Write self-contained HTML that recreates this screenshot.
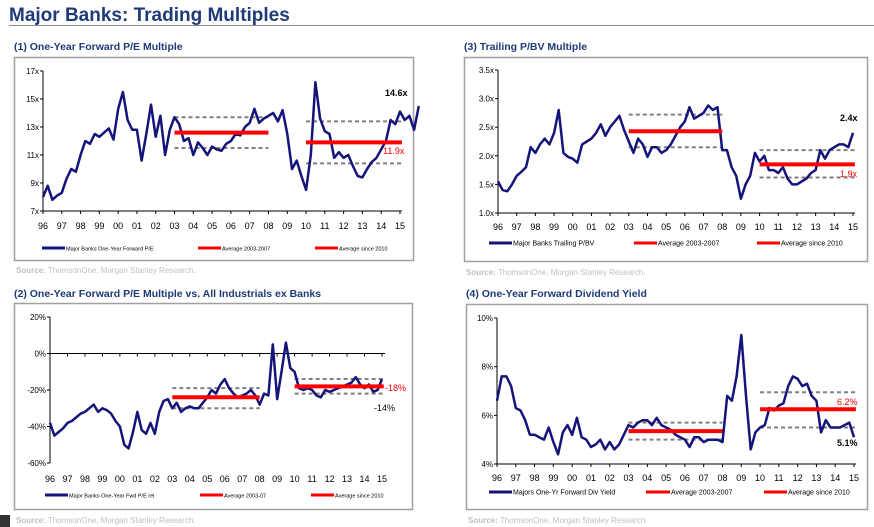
<!DOCTYPE html>
<html><head><meta charset="utf-8"><style>
body{margin:0;background:#fff;width:874px;height:527px;overflow:hidden;font-family:"Liberation Sans",Arial,sans-serif}
svg{display:block}
</style></head><body>
<svg id="s" width="874" height="527" xmlns="http://www.w3.org/2000/svg" font-family="Liberation Sans, Arial, sans-serif">
<text x="9" y="21" font-size="19" font-weight="bold" fill="#1f3a78">Major Banks: Trading Multiples</text>
<line x1="9" y1="25.5" x2="874" y2="25.5" stroke="#8a8a8a" stroke-width="1"/>
<rect x="0" y="515" width="10" height="12" fill="#333"/>
</svg>
<script>
const years=["96","97","98","99","00","01","02","03","04","05","06","07","08","09","10","11","12","13","14","15"];
// quarterly values, 1996Q1 .. 2015Q1
const peValues=[8.0,8.8,7.8,8.1, 8.3,9.3,10.0,9.8, 11.0,12.0,11.8,12.5, 12.3,12.6,12.9,12.1, 14.3,15.5,13.5,12.8, 12.8,10.6,12.5,14.6, 12.3,13.8,11.0,12.8, 13.7,13.2,12.0,12.2, 11.0,11.9,11.5,11.0, 11.6,11.4,11.3,11.8, 12.0,12.5,12.4,13.0, 13.3,14.3,13.3,13.6, 13.8,14.0,13.4,14.2, 12.5,10.0,10.6,9.5, 8.5,11.0,16.2,13.6, 12.7,12.5,10.8,11.2, 10.8,11.0,10.2,9.5, 9.4,10.0,10.5,10.8, 11.4,12.0,13.5,13.2, 14.1,13.5,13.8,12.8, 14.5];
const peTicks=[7,9,11,13,15,17];
const peAvg=[12.6,13.7,11.5];
const peAvg10=[11.9,13.4,10.4];

const pbvValues=[1.55,1.4,1.38,1.5, 1.65,1.72,1.8,2.15, 2.05,2.2,2.3,2.2, 2.4,2.8,2.05,1.98, 1.95,1.88,2.2,2.25, 2.3,2.4,2.55,2.35, 2.5,2.6,2.7,2.45, 2.25,2.05,2.3,2.2, 1.98,2.15,2.15,2.05, 2.1,2.2,2.35,2.5, 2.6,2.85,2.65,2.7, 2.75,2.88,2.8,2.85, 2.1,2.1,1.8,1.65, 1.25,1.5,1.65,2.05, 1.9,2.0,1.75,1.75, 1.7,1.8,1.6,1.5, 1.5,1.55,1.6,1.7, 1.75,2.1,1.95,2.1, 2.15,2.2,2.2,2.15, 2.4];
const pbvTicks=[1.0,1.5,2.0,2.5,3.0,3.5];
const pbvAvg=[2.43,2.72,2.15];
const pbvAvg10=[1.85,2.1,1.62];

const relValues=[-38,-45,-43,-41, -38,-37,-35,-33, -32,-30,-28,-32, -30,-31,-33,-37, -40,-50,-52,-43, -32,-42,-44,-38, -44,-32,-26,-25, -30,-27,-32,-30, -29,-30,-30,-27, -24,-20,-22,-17, -14,-19,-22,-24, -23,-22,-20,-23, -28,-22,-23,5, -25,-10,6,-8, -10,-19,-20,-19, -20,-23,-24,-20, -21,-20,-19,-18, -17,-16,-13,-17, -19,-17,-21,-20, -14];
const relTicks=[-60,-40,-20,0,20];
const relAvg=[-24,-19,-30];
const relAvg10=[-18,-14,-22];

const dyValues=[6.6,7.6,7.6,7.2, 6.3,6.2,5.8,5.2, 5.2,5.1,5.0,5.5, 4.9,4.4,5.3,5.6, 5.2,5.9,5.1,5.0, 4.7,4.8,5.0,4.6, 4.9,4.6,4.8,5.2, 5.6,5.5,5.7,5.8, 5.8,5.6,5.9,5.6, 5.5,5.4,5.2,5.1, 5.0,4.7,5.1,5.1, 4.9,5.0,5.0,5.0, 4.9,6.8,6.6,7.6, 9.3,6.8,4.6,5.3, 5.5,5.6,6.3,6.2, 6.4,6.5,7.2,7.6, 7.5,7.2,7.3,6.8, 6.6,5.3,5.8,5.5, 5.5,5.5,5.6,5.7, 5.1];
const dyTicks=[4,6,8,10];
const dyAvg=[5.35,5.7,5.0];
const dyAvg10=[6.25,6.95,5.5];

const NS="http://www.w3.org/2000/svg";
const svg=document.getElementById('s');
function el(tag,attrs,parent){const e=document.createElementNS(NS,tag);for(const k in attrs)e.setAttribute(k,attrs[k]);(parent||svg).appendChild(e);return e;}
function txt(x,y,s,size,attrs,parent){const t=el('text',Object.assign({x:x,y:y,'font-size':size},attrs||{}),parent);t.textContent=s;return t;}

function chart(c){
  const g=el('g',{});
  
  
  const t=txt(c.fx,c.titleY,c.title,10.5,{'font-weight':'bold',fill:'#1f3a78'});
  
  
  const fr=el('rect',{x:c.fx+0.5,y:c.fy+0.5,width:c.fw,height:c.fh,fill:'#fff',stroke:'#a0a0a0','stroke-width':1.5},g);
  
  
  const xs=yr=>c.x0+(yr-1996)*(c.x1-c.x0)/19;
  const ys=v=>c.yb+(v-c.vmin)*(c.yt-c.yb)/(c.vmax-c.vmin);
  const ya=el('line',{x1:c.x0,y1:c.yt,x2:c.x0,y2:c.yb,stroke:'#000','stroke-width':1},g);
  
  
  c.ticks.forEach(v=>{
    el('line',{x1:c.x0-3,y1:ys(v),x2:c.x0,y2:ys(v),stroke:'#000'},g);
    const tl=txt(c.x0-4,ys(v)+3,c.fmt(v),8,{'text-anchor':'end',fill:'#000'},g);
    
    
  });
  const axV=c.xaxisAt!==undefined?c.xaxisAt:c.vmin;
  const xEnd=c.xEnd||c.x1+2;
  const xa=el('line',{x1:c.x0,y1:ys(axV),x2:xEnd,y2:ys(axV),stroke:'#000','stroke-width':1},g);
  
  
  years.forEach((y,i)=>{
    const x=xs(1996+i);
    el('line',{x1:x,y1:ys(axV),x2:x,y2:ys(axV)+3,stroke:'#000'},g);
    const tl=txt(x,c.labY,y,9,{'text-anchor':'middle',fill:'#000'},g);
    
    
  });
  [[c.avg,2003,2008],[c.avg10,2010,2015.1]].forEach((a,k)=>{
    [a[0][1],a[0][2]].forEach(v=>{
      const d=el('line',{x1:xs(a[1]),y1:ys(v),x2:xs(a[2]),y2:ys(v),stroke:'#808080','stroke-width':2,'stroke-dasharray':'4,3'},g);
      
      
    });
  });
  const pts=c.data.map((v,i)=>xs(1996+i/4).toFixed(1)+','+ys(v).toFixed(1)).join(' ');
  const ln=el('polyline',{points:pts,fill:'none',stroke:'#14147a','stroke-width':2.5,'stroke-linejoin':'round'},g);
  
  
  [[c.avg,2003,2008],[c.avg10,2010,2015.1]].forEach((a,k)=>{
    const r=el('line',{x1:xs(a[1]),y1:ys(a[0][0]),x2:xs(a[2]),y2:ys(a[0][0]),stroke:'#ff0000','stroke-width':4},g);
    
    
  });
  c.ann.forEach(a=>{
    const at=txt(a[0],a[1],a[2],9,{fill:a[3],'font-weight':a[4]||'normal'},g);
    
    
  });
  c.legend.forEach(l=>{
    const lg=el('g',{},g);
    
    
    el('line',{x1:l[0],y1:c.legY,x2:l[1],y2:c.legY,stroke:l[2],'stroke-width':3},lg);
    txt(l[1]+1,c.legY+2.5,l[3],c.legSize,{fill:'#000'},lg);
  });
  const so=txt(c.fx+2,c.srcY,'',8,{fill:'#c0c0c0'});
  
  
  const b=el('tspan',{'font-weight':'bold'},so);b.textContent='Source:';
  const r=el('tspan',{},so);r.textContent=' ThomsonOne, Morgan Stanley Research.';
}

chart({name:'pe-chart',title:'(1) One-Year Forward P/E Multiple',titleY:50,fx:14,fy:57,fw:399,fh:203,
  x0:43,x1:400,yt:71,yb:211,vmin:7,vmax:17,ticks:peTicks,fmt:v=>v+'x',labY:229,data:peValues,avg:peAvg,avg10:peAvg10,
  ann:[[385,96,'14.6x','#000','bold'],[383,154,'11.9x','#ff0000']],
  legY:248,legSize:5.5,legend:[[42,65,'#14147a','Major Banks One-Year Forward P/E'],[198,221,'#ff0000','Average 2003-2007'],[315,338,'#ff0000','Average since 2010']],srcY:273});

chart({name:'pbv-chart',title:'(3) Trailing P/BV Multiple',titleY:50,fx:464,fy:57,fw:403,fh:204,
  x0:498,x1:853,yt:70,yb:213,vmin:1.0,vmax:3.5,ticks:pbvTicks,fmt:v=>v.toFixed(1)+'x',labY:230,data:pbvValues,avg:pbvAvg,avg10:pbvAvg10,
  ann:[[840,121,'2.4x','#000','bold'],[840,177,'1.9x','#ff0000']],
  legY:243,legSize:7,legend:[[489,512,'#14147a','Major Banks Trailing P/BV'],[634,657,'#ff0000','Average 2003-2007'],[757,780,'#ff0000','Average since 2010']],srcY:275});

chart({name:'rel-pe-chart',title:'(2) One-Year Forward P/E Multiple vs. All Industrials ex Banks',titleY:297,fx:14,fy:303,fw:398,fh:206,
  x0:50,x1:382,yt:317,yb:463,vmin:-60,vmax:20,ticks:relTicks,fmt:v=>v+'%',labY:482,data:relValues,avg:relAvg,avg10:relAvg10,xaxisAt:0,xEnd:385,
  ann:[[385,391,'-18%','#ff0000'],[374,411,'-14%','#000']],
  legY:495,legSize:5.5,legend:[[45,68,'#14147a','Major Banks One-Year Fwd P/E rel'],[200,223,'#ff0000','Average 2003-07'],[311,334,'#ff0000','Average since 2010']],srcY:523});

chart({name:'div-yield-chart',title:'(4) One-Year Forward Dividend Yield',titleY:297,fx:466,fy:304,fw:401,fh:205,
  x0:497,x1:854,yt:318,yb:464,vmin:4,vmax:10,ticks:dyTicks,fmt:v=>v+'%',labY:481,data:dyValues,avg:dyAvg,avg10:dyAvg10,
  ann:[[837,405,'6.2%','#ff0000'],[837,446,'5.1%','#000','bold']],
  legY:492,legSize:7,legend:[[489,512,'#14147a','Majors One-Yr Forward Div Yield'],[646,670,'#ff0000','Average 2003-2007'],[764,787,'#ff0000','Average since 2010']],srcY:523});
</script>
</body></html>
